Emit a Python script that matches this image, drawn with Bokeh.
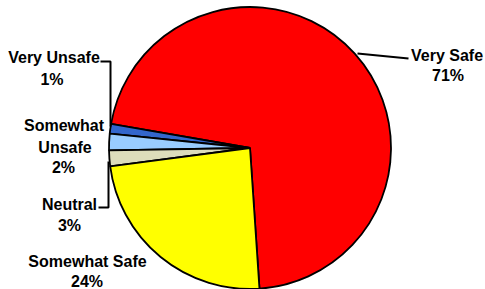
import numpy as np
from bokeh.plotting import figure
from bokeh.models import Range1d, ColumnDataSource
from bokeh.core.properties import value
from bokeh.embed import file_html
from bokeh.resources import INLINE

# ---- data ----
categories = ["Very Safe", "Very Unsafe", "Somewhat Unsafe", "Neutral", "Somewhat Safe"]
values = [71.2, 1.1, 1.9, 1.8, 24.0]
pct_labels = ["71%", "1%", "2%", "3%", "24%"]
colors = ["#FF0000", "#3366CC", "#99CCFF", "#DDDDBB", "#FFFF00"]

W, H = 485, 289
start_deg = 273.85  # first slice start (anticlockwise drawing)

# data coords: x = page x, y = -(page y)
p = figure(width=W, height=H, output_backend="svg", toolbar_location=None,
           x_range=Range1d(0, W), y_range=Range1d(-H, 0), min_border=0)
p.axis.visible = False
p.grid.visible = False
p.outline_line_color = None
p.background_fill_color = "white"
p.border_fill_color = "white"

vals = np.array(values, dtype=float)
fr = vals / vals.sum()
ends = np.radians(start_deg) + np.cumsum(fr) * 2 * np.pi
starts = ends - fr * 2 * np.pi

cx, cy, r = 249.5, -147.5, 141.0
src = ColumnDataSource(dict(start=starts, end=ends, color=colors, cat=categories))
p.wedge(x=cx, y=cy, radius=r, start_angle="start", end_angle="end",
        fill_color="color", line_color="black", line_width=1.8, source=src)

for xs, ys in [([357, 408], [53, 58]),
               ([100, 110, 110], [61, 61, 126]),
               ([98, 108, 108], [207, 207, 161])]:
    p.line(xs, [-y for y in ys], line_color="black", line_width=2)

# label lines: (text, center x, baseline y in page coords)
label_lines = [
    (categories[0], 446.5, 55), (pct_labels[0], 447.5, 75),
    (categories[1], 53.5, 57), (pct_labels[1], 51.5, 78.5),
    ("Somewhat", 63.5, 125), ("Unsafe", 64.5, 146.5), (pct_labels[2], 63, 166.5),
    (categories[3], 69, 203.5), (pct_labels[3], 69, 224.5),
    (categories[4], 87, 261), (pct_labels[4], 86.5, 281),
]
tsrc = ColumnDataSource(dict(x=[l[1] for l in label_lines],
                             y=[-l[2] for l in label_lines],
                             t=[l[0] for l in label_lines]))
p.text(x="x", y="y", text="t", source=tsrc, text_font=value("Liberation Sans"),
       text_font_style="bold", text_font_size="16px", text_color="black",
       text_align="center", text_baseline="alphabetic")

open("out.html", "w").write(file_html(p, INLINE))
